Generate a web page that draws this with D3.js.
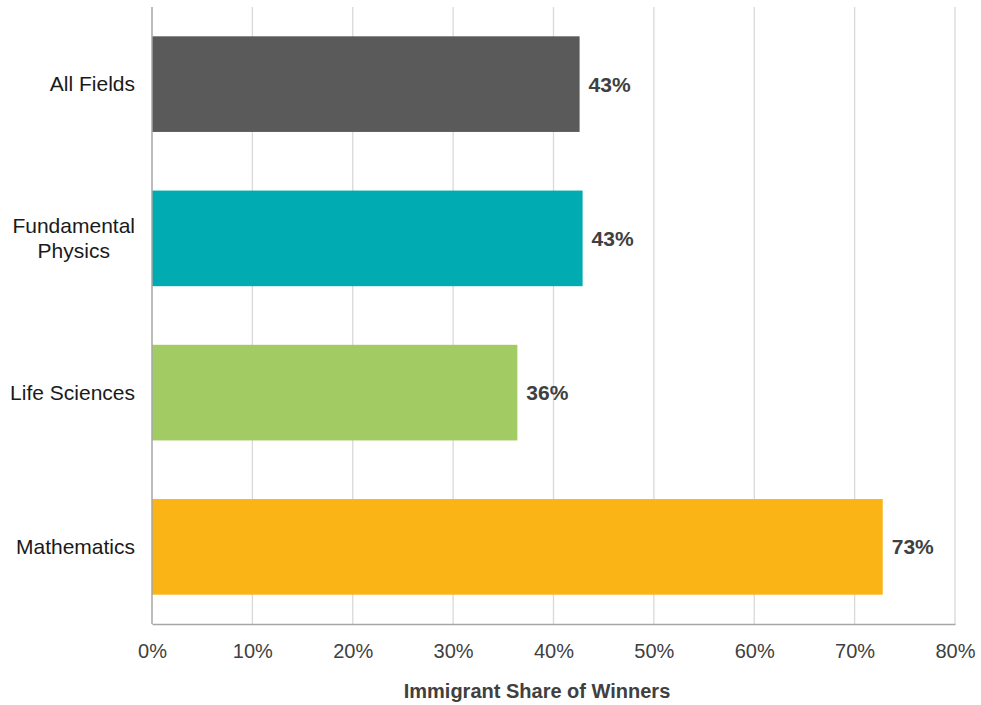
<!DOCTYPE html>
<html>
<head>
<meta charset="utf-8">
<script src="https://cdn.jsdelivr.net/npm/d3@7/dist/d3.min.js"></script>
<style>
  html, body { margin: 0; padding: 0; background: #fff; }
  svg { display: block; font-family: "Liberation Sans", Arial, sans-serif; }
</style>
</head>
<body>
<svg id="chart" width="981" height="705"></svg>
<script>
// Immigrant share of prize winners by field
const categories = ["All Fields", "Fundamental Physics", "Life Sciences", "Mathematics"];
const categoryLines = [["All Fields"], ["Fundamental", "Physics"], ["Life Sciences"], ["Mathematics"]];
const shares = [42.6, 42.9, 36.4, 72.8];
const barColors = ["#5a5a5a", "#00abb2", "#a3cb63", "#fbb416"];
const xTicks = [0, 10, 20, 30, 40, 50, 60, 70, 80];
const xTitle = "Immigrant Share of Winners";

const svg = d3.select("#chart");
const margin = { top: 7, right: 26, bottom: 81, left: 152 };
const width = 981 - margin.left - margin.right;
const height = 705 - margin.top - margin.bottom;

const g = svg.append("g").attr("transform", `translate(${margin.left},${margin.top})`);

const x = d3.scaleLinear().domain([0, 80]).range([0, width]);
const y = d3.scaleBand().domain(categories).range([0, height]).paddingInner(0.38).paddingOuter(0.19);

// vertical gridlines
g.selectAll("line.grid")
  .data(xTicks.slice(1))
  .join("line")
  .attr("class", "grid")
  .attr("x1", d => x(d)).attr("x2", d => x(d))
  .attr("y1", 0).attr("y2", height)
  .attr("stroke", "#d9d9d9").attr("stroke-width", 1.3);

// bars
g.selectAll("rect.bar")
  .data(categories)
  .join("rect")
  .attr("class", "bar")
  .attr("x", 0)
  .attr("y", d => y(d))
  .attr("width", (d, i) => x(shares[i]))
  .attr("height", y.bandwidth())
  .attr("fill", (d, i) => barColors[i]);

// value labels
g.selectAll("text.value")
  .data(categories)
  .join("text")
  .attr("class", "value")
  .attr("x", (d, i) => x(shares[i]) + 9)
  .attr("y", d => y(d) + y.bandwidth() / 2)
  .attr("dy", "0.36em")
  .attr("font-size", 21)
  .attr("font-weight", "bold")
  .attr("fill", "#404040")
  .text((d, i) => Math.round(shares[i]) + "%");

// x axis
const xAxis = g.append("g")
  .attr("transform", `translate(0,${height})`)
  .call(d3.axisBottom(x).tickValues(xTicks).tickFormat(d => d + "%").tickSize(0).tickPadding(20));
xAxis.select(".domain").attr("stroke", "#a6a6a6").attr("stroke-width", 1.5);
xAxis.selectAll("text")
  .attr("font-size", 20)
  .attr("fill", "#404040")
  .attr("font-family", "\"Liberation Sans\", Arial, sans-serif");

// y axis line
g.append("line")
  .attr("x1", 0).attr("x2", 0)
  .attr("y1", 0).attr("y2", height)
  .attr("stroke", "#a6a6a6").attr("stroke-width", 1.5);

// category labels: each block is right-aligned to the axis, lines centred within the block
const labelGap = 17;
const catLabels = g.selectAll("text.cat")
  .data(categories)
  .join("text")
  .attr("class", "cat")
  .attr("text-anchor", "middle")
  .attr("font-size", 21)
  .attr("fill", "#1a1a1a");
catLabels.each(function(d, i) {
  const lines = categoryLines[i];
  const lh = 25;
  const t = d3.select(this);
  const spans = t.selectAll("tspan")
    .data(lines)
    .join("tspan")
    .attr("x", 0)
    .attr("y", (l, j) => (j - (lines.length - 1) / 2) * lh)
    .attr("dy", "0.35em")
    .text(l => l);
  const maxW = d3.max(spans.nodes(), n => n.getComputedTextLength());
  t.attr("transform", `translate(${-labelGap - maxW / 2},${y(d) + y.bandwidth() / 2})`);
});

// axis title
svg.append("text")
  .attr("x", 537)
  .attr("y", 698)
  .attr("text-anchor", "middle")
  .attr("font-size", 20)
  .attr("font-weight", "bold")
  .attr("fill", "#404040")
  .text(xTitle);
</script>
</body>
</html>
